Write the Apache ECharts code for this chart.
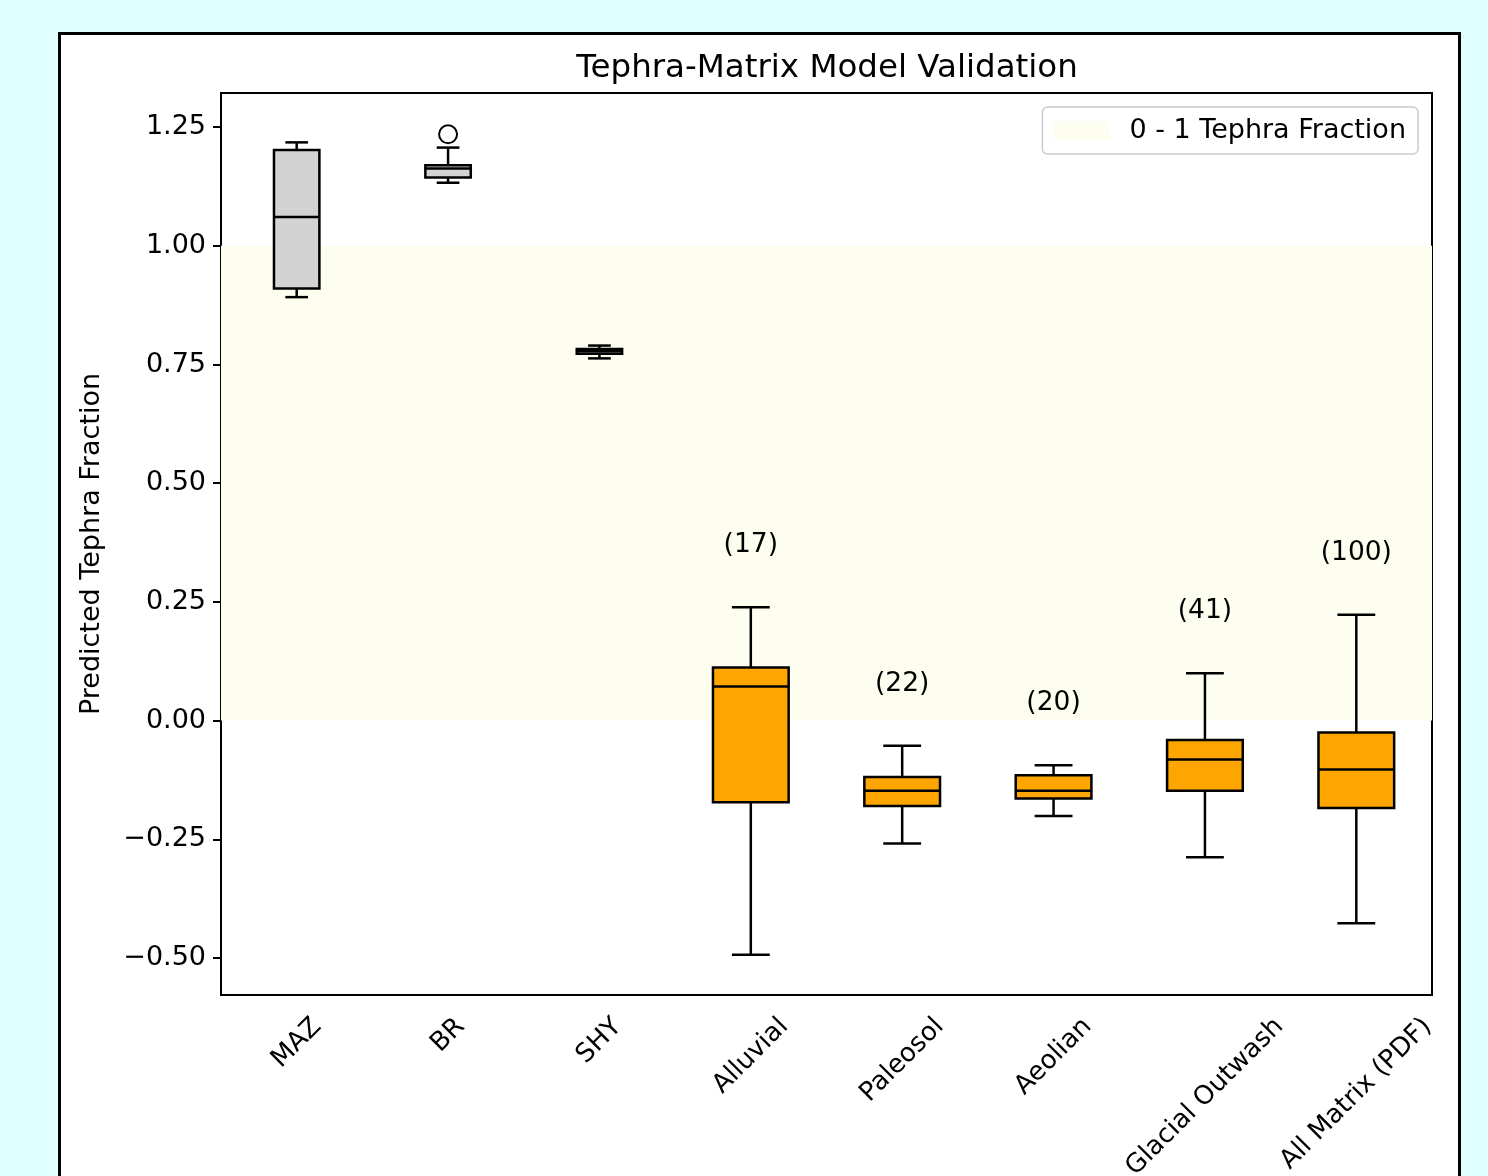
<!DOCTYPE html>
<html><head><meta charset="utf-8">
<script src="https://cdn.jsdelivr.net/npm/echarts@6/dist/echarts.min.js"></script>
<style>
html,body{margin:0;padding:0;background:#e0ffff;width:1488px;height:1176px;overflow:hidden}
#frame{position:absolute;left:58px;top:32px;width:1397px;height:1200px;border:3px solid #000;background:#fff}
#chart{position:absolute;left:0;top:0;width:1488px;height:1176px}
</style></head><body>
<div id="frame"></div><div id="chart"></div>
<script>
// ---- data ----
const categories = ['MAZ', 'BR', 'SHY', 'Alluvial', 'Paleosol', 'Aeolian', 'Glacial Outwash', 'All Matrix (PDF)'];
const referenceSamples = ['MAZ', 'BR', 'SHY'];
const boxMin    = [0.892, 1.133, 0.763, -0.493, -0.259, -0.201, -0.288, -0.427];
const boxQ1     = [0.910, 1.144, 0.773, -0.172, -0.180, -0.164, -0.148, -0.184];
const boxMedian = [1.061, 1.163, 0.778,  0.072, -0.148, -0.148, -0.082, -0.103];
const boxQ3     = [1.202, 1.170, 0.783,  0.112, -0.119, -0.115, -0.041, -0.025];
const boxMax    = [1.218, 1.207, 0.790,  0.239, -0.053, -0.094,  0.100,  0.223];
const outlierCategories = ['BR'];
const outlierValues = [1.235];
const sampleCounts = [null, null, null, 17, 22, 20, 41, 100];
const yTicks = [-0.5, -0.25, 0, 0.25, 0.5, 0.75, 1.0, 1.25];
const yMin = -0.578, yMax = 1.322;
const bandRange = [0, 1];
const bandLabel = '0 - 1 Tephra Fraction';
const titleText = 'Tephra-Matrix Model Validation';
const yAxisTitle = 'Predicted Tephra Fraction';

// ---- styles ----
const FONT = '"DejaVu Sans", "Liberation Sans", sans-serif';
const bandColor = '#fefef0';
const refColor = '#d3d3d3';
const matColor = '#ffa500';
const LW = 2.5;

function rowsFor(filterFn) {
  const rows = [];
  categories.forEach((c, i) => {
    if (filterFn(c)) rows.push([i, boxMin[i], boxQ1[i], boxMedian[i], boxQ3[i], boxMax[i]]);
  });
  return rows;
}

function makeRender(widthFrac, fill) {
  return function (params, api) {
    const idx = api.value(0);
    const vMin = api.value(1), q1 = api.value(2), med = api.value(3), q3 = api.value(4), vMax = api.value(5);
    const band = api.size([1, 0])[0];
    const bw = band * widthFrac, cw = bw / 2;
    const x = api.coord([idx, 0])[0];
    const Y = v => api.coord([idx, v])[1];
    const st = { stroke: '#000', lineWidth: LW };
    return {
      type: 'group',
      children: [
        { type: 'line', shape: { x1: x, y1: Y(vMin), x2: x, y2: Y(q1) }, style: st },
        { type: 'line', shape: { x1: x, y1: Y(q3), x2: x, y2: Y(vMax) }, style: st },
        { type: 'line', shape: { x1: x - cw / 2, y1: Y(vMin), x2: x + cw / 2, y2: Y(vMin) }, style: st },
        { type: 'line', shape: { x1: x - cw / 2, y1: Y(vMax), x2: x + cw / 2, y2: Y(vMax) }, style: st },
        { type: 'rect', shape: { x: x - bw / 2, y: Y(q3), width: bw, height: Y(q1) - Y(q3) },
          style: { fill: fill, stroke: '#000', lineWidth: LW } },
        { type: 'line', shape: { x1: x - bw / 2, y1: Y(med), x2: x + bw / 2, y2: Y(med) }, style: st }
      ]
    };
  };
}

const countData = [];
sampleCounts.forEach((n, i) => { if (n != null) countData.push([i, boxMax[i], n]); });

const chart = echarts.init(document.getElementById('chart'), null, { renderer: 'canvas' });
chart.setOption({
  backgroundColor: 'transparent',
  animation: false,
  textStyle: { fontFamily: FONT },
  title: {
    text: titleText, left: 822, top: 47, textAlign: 'center',
    textStyle: { fontSize: 32.5, fontWeight: 'normal', color: '#000', fontFamily: FONT }
  },
  legend: {
    data: [{ name: bandLabel, icon: 'rect' }],
    right: 70, top: 107,
    itemWidth: 56, itemHeight: 18, itemGap: 0,
    padding: [10, 12, 10, 11],
    borderColor: '#cccccc', borderWidth: 1.5, borderRadius: 5,
    backgroundColor: 'rgba(255,255,255,0.8)',
    textStyle: { fontSize: 27, color: '#000', fontFamily: FONT, padding: [0, 0, 0, 15] },
    selectedMode: false
  },
  grid: {
    left: 221, top: 93, width: 1211, height: 902,
    show: true, borderColor: '#000', borderWidth: 2, backgroundColor: '#fff',
    containLabel: false, outerBoundsMode: 'none'
  },
  xAxis: {
    type: 'category', data: categories, boundaryGap: true,
    axisLine: { onZero: false, lineStyle: { color: '#000', width: 2 } },
    axisTick: { alignWithLabel: true, length: 8, lineStyle: { color: '#000', width: 2 } },
    axisLabel: { show: false },
    splitLine: { show: false }
  },
  yAxis: {
    type: 'value', min: yMin, max: yMax,
    name: yAxisTitle, nameLocation: 'middle', nameGap: 116,
    nameTextStyle: { fontSize: 27, color: '#000', fontFamily: FONT },
    axisLine: { show: true, onZero: false, lineStyle: { color: '#000', width: 2 } },
    axisTick: { show: true, length: 8, customValues: yTicks, lineStyle: { color: '#000', width: 2 } },
    axisLabel: {
      customValues: yTicks, fontSize: 27, color: '#000', margin: 15, fontFamily: FONT,
      formatter: v => v.toFixed(2).replace('-', '\u2212')
    },
    splitLine: { show: false }
  },
  series: [
    {
      name: bandLabel, type: 'line', z: 1,
      data: categories.map(() => null), symbol: 'none', showSymbol: false,
      color: bandColor, itemStyle: { color: bandColor }, lineStyle: { color: bandColor, width: 0 },
      silent: true,
      markArea: {
        silent: true, z: 1,
        itemStyle: { color: bandColor },
        data: [[{ yAxis: bandRange[0] }, { yAxis: bandRange[1] }]]
      }
    },
    {
      name: 'Reference', type: 'custom', z: 3,
      renderItem: makeRender(0.3, refColor),
      encode: { x: 0, y: [1, 2, 3, 4, 5] },
      data: rowsFor(c => referenceSamples.includes(c))
    },
    {
      name: 'Matrix', type: 'custom', z: 3,
      renderItem: makeRender(0.5, matColor),
      encode: { x: 0, y: [1, 2, 3, 4, 5] },
      data: rowsFor(c => !referenceSamples.includes(c))
    },
    {
      name: 'Outliers', type: 'scatter', z: 4,
      symbol: 'emptyCircle', symbolSize: 18,
      itemStyle: { color: '#000', borderColor: '#000', borderWidth: 2.5, opacity: 1 },
      data: outlierCategories.map((c, k) => [c, outlierValues[k]])
    },
    {
      name: 'Counts', type: 'scatter', z: 4, symbolSize: 0, silent: true,
      itemStyle: { opacity: 1 },
      label: {
        show: true, position: 'inside', offset: [0, -62], opacity: 1,
        fontSize: 26.5, color: '#000', fontFamily: FONT,
        formatter: p => '(' + p.value[2] + ')'
      },
      data: countData
    }
  ]
});

// rotated category labels, centred under each tick like the reference
function placeXLabels() {
  const fs = 26;
  const ctx = document.createElement('canvas').getContext('2d');
  ctx.font = fs + 'px "DejaVu Sans"';
  const axisY = chart.convertToPixel({ yAxisIndex: 0 }, yMin);
  const h = fs * 1.16;
  const els = categories.map((c, i) => {
    const x = chart.convertToPixel({ xAxisIndex: 0 }, c);
    const w = ctx.measureText(c).width;
    const cy = axisY + 17 + 0.3536 * (w + h);
    return {
      type: 'text', x: x, y: cy, rotation: Math.PI / 4, silent: true,
      style: { text: c, fontSize: fs, fontFamily: FONT, fill: '#000', align: 'center', verticalAlign: 'middle' }
    };
  });
  chart.setOption({ graphic: els });
}
placeXLabels();
</script>
</body></html>
